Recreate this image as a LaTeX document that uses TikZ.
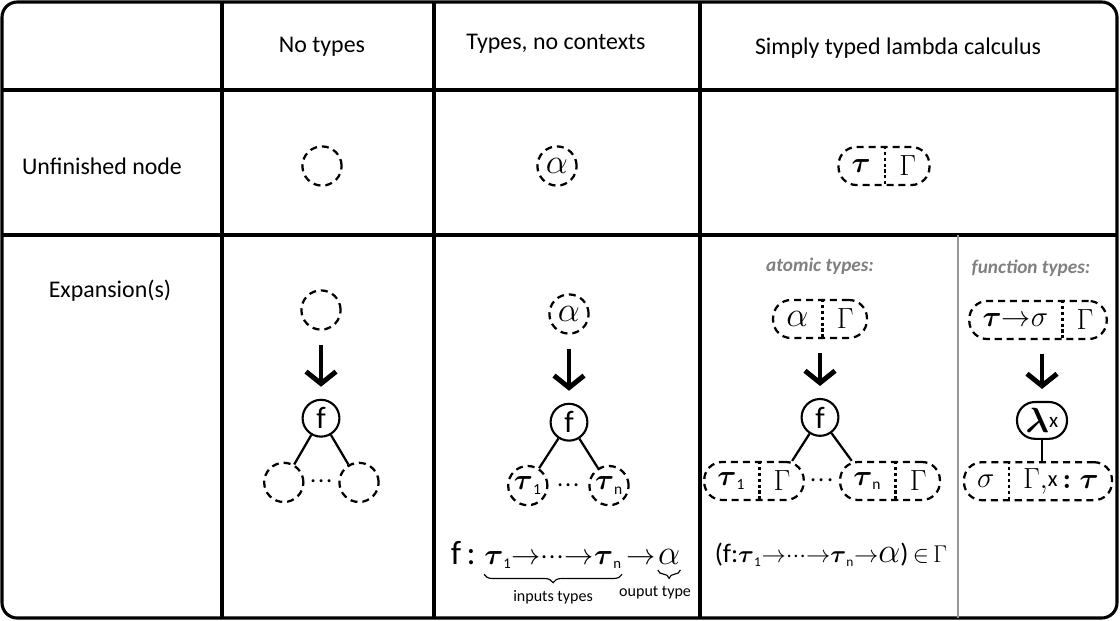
\documentclass[tikz,border=0pt]{standalone}
\usepackage{fontspec}
\setmainfont{Carlito}
\usepackage{amsmath,amsbsy}
\usepackage{tikz}
\usepackage{xcolor}
\usetikzlibrary{shapes,shapes.multipart,arrows,arrows.meta,positioning,calc,decorations.pathreplacing}
\definecolor{notegray}{RGB}{128,128,128}
\definecolor{rulegray}{RGB}{150,150,150}
\newcommand{\btau}{\boldsymbol{\tau}}
\newcommand{\tsub}[1]{\boldsymbol{\tau}_{\scriptscriptstyle\mathrm{#1}}}
\newcommand{\sdots}{{\cdotp\!\cdotp\!\cdotp}}
\newcommand{\aly}{{\fontsize{28}{28}\selectfont$\alpha$}}

\begin{document}
\begin{tikzpicture}[
 x=0.025cm, y=-0.025cm,
 hole/.style={circle, draw, dash pattern=on 5pt off 3.5pt, line width=1.6pt, minimum size=0.98cm, inner sep=0pt, font=\fontsize{22}{24}\selectfont},
 fun/.style={circle, draw, line width=1.5pt, minimum size=0.92cm, inner sep=0pt, font=\fontsize{22}{24}\selectfont},
 lam/.style={rectangle, draw, line width=1.5pt, rounded corners=0.45cm, minimum width=1.25cm, minimum height=0.92cm, inner sep=0pt, font=\fontsize{24}{26}\selectfont},
 ctx/.style={rectangle split, rectangle split horizontal, rectangle split parts=2, rectangle split draw splits=false, draw, rounded corners=0.45cm, dash pattern=on 5pt off 3.5pt, line width=1.6pt, minimum height=0.95cm, inner xsep=0.33cm, inner ysep=0pt, font=\fontsize{22}{24}\selectfont},
 divider/.style={dash pattern=on 2.2pt off 2pt, line width=1.6pt},
 arrow/.style={-{Straight Barb[length=0.3cm, width=0.75cm]}, line width=3.5pt, shorten <=0.35cm, shorten >=0.3cm},
 branch/.style={line width=1.6pt},
 head/.style={font=\fontsize{17}{20}\selectfont},
 kind/.style={font=\fontsize{13.7}{16}\selectfont\bfseries\itshape, text=notegray},
 note/.style={font=\fontsize{11.4}{13}\selectfont},
 brace/.style={decorate, decoration={brace, mirror, amplitude=6pt, raise=4pt}, line width=0.8pt},
 formula/.style={inner sep=0pt, font=\fontsize{21}{24}\selectfont}
]
\useasboundingbox (0,0) rectangle (1120,620);

% Grid
\draw[line width=2.2pt, rounded corners=0.38cm] (2,2) rectangle (1117,618);
\draw[line width=2.2pt] (222,2) -- (222,618) (434,2) -- (434,618) (700,2) -- (700,618);
\draw[line width=2.2pt] (2,90) -- (1117,90) (2,235) -- (1117,235);
\draw[line width=0.8pt, rulegray] (958,235) -- (958,618);

% Row 1: Headers
\node[head] (h1) at (322,47) {No types};
\node[head] (h2) at (556,44) {Types, no contexts};
\node[head] (h3) at (898,48) {Simply typed lambda calculus};

% Row 2: Unfinished node
\node[head] (r1) at (102,166) {Unfinished node};
\node[hole] (u1) at (322,166) {};
\node[hole, font=\fontsize{25}{25}\selectfont] (u2) at (557,166) {$\alpha$};
\node[ctx] (u3) at (884,166) {$\btau$\nodepart{two}$\Gamma$};
\draw[divider] (u3.one split north) -- (u3.one split south);

% Row 3: Expansion(s)
\node[head] (r2) at (110,291) {Expansion(s)};

% Column 1: no types
\node[hole] (e1top) at (321,310) {};
\node[fun, below=1.7cm of e1top] (e1f) {f};
\node[hole, below=0.6cm of e1f, xshift=-0.93cm] (e1a) {};
\node[hole, below=0.6cm of e1f, xshift=0.95cm] (e1b) {};
\node[formula] (e1dots) at ($(e1a)!0.5!(e1b)$) {$\sdots$};

\draw[arrow] (e1top) -- (e1f);
\draw[branch] (e1f) -- (e1a);
\draw[branch] (e1f) -- (e1b);

% Column 2: types, no contexts
\node[hole, font=\fontsize{28}{28}\selectfont] (e2top) at (569,314) {$\alpha$};
\node[fun, below=1.7cm of e2top] (e2f) {f};
\node[hole, below=0.58cm of e2f, xshift=-1.03cm] (e2a) {$\tsub{1}$};
\node[hole, below=0.58cm of e2f, xshift=1.0cm] (e2b) {$\tsub{n}$};
\node[formula] (e2dots) at ($(e2a)!0.5!(e2b)$) {$\sdots$};

\draw[arrow] (e2top) -- (e2f);
\draw[branch] (e2f) -- (e2a);
\draw[branch] (e2f) -- (e2b);

\node[formula, anchor=base west] (ins2) at (484,564) {$\tsub{1}{\to}\sdots{\to}\tsub{n}$};
\node[formula, anchor=base east, font=\fontsize{24}{26}\selectfont] (sig2) at ([xshift=-0.2cm]ins2.base west) {f\,:};
\node[formula, anchor=base west] (arr2) at ([xshift=0.1cm]ins2.base east) {${\to}$};
\node[formula, anchor=base west] (out2) at ([xshift=0.05cm]arr2.base east) {\aly};
\draw[brace] (ins2.south west) -- (ins2.south east)
 node[note, midway, below=0.42cm] (in2lbl) {inputs types};
\draw[brace] (out2.south west) -- (out2.south east)
 node[note, midway, below=0.42cm, xshift=-0.35cm] (out2lbl) {ouput type};

% Column 3: atomic types
\node[kind] (k3) at (820,266) {atomic types:};
\node[ctx] (e3top) at (820,319) {\aly\nodepart{two}$\Gamma$};
\draw[divider] (e3top.one split north) -- (e3top.one split south);
\node[fun, below=1.47cm of e3top] (e3f) {f};
\node[ctx, below=0.6cm of e3f, xshift=-1.65cm] (e3a) {$\tsub{1}$\nodepart{two}$\Gamma$};
\node[ctx, below=0.6cm of e3f, xshift=1.75cm] (e3b) {$\tsub{n}$\nodepart{two}$\Gamma$};
\draw[divider] (e3a.one split north) -- (e3a.one split south);
\draw[divider] (e3b.one split north) -- (e3b.one split south);
\node[formula] (e3dots) at ($(e3a)!0.5!(e3b)$) {$\sdots$};

\draw[arrow] (e3top) -- (e3f);
\draw[branch] (e3f) -- ($(e3a.north)!0.75!(e3a.north east)$);
\draw[branch] (e3f) -- ($(e3b.north)!0.75!(e3b.north west)$);

\node[formula, font=\fontsize{19}{22}\selectfont] (sig3) at (831,555) {(f:$\tsub{1}{\to}\sdots{\to}\tsub{n}{\to}${\fontsize{24}{24}\selectfont$\alpha$})\,${\in}\,\Gamma$};

% Column 4: function types
\node[kind] (k4) at (1031,268) {function types:};
\node[ctx] (e4top) at (1038,320) {$\btau{\to}\sigma$\nodepart{two}$\Gamma$};
\draw[divider] (e4top.one split north) -- (e4top.one split south);
\node[lam, below=1.52cm of e4top, xshift=0.1cm] (e4lam) {$\boldsymbol{\lambda}$\raisebox{0.3ex}{\fontsize{15}{15}\selectfont x}};
\node[ctx, below=0.53cm of e4lam, xshift=-0.1cm] (e4ch) {$\sigma$\nodepart{two}$\Gamma,$\raisebox{0.1ex}{\fontsize{16}{16}\selectfont x}$\,\boldsymbol{:}\btau$};
\draw[divider] (e4ch.one split north) -- (e4ch.one split south);

\draw[arrow] (e4top.south -| e4lam) -- (e4lam);
\draw[branch] (e4lam) -- (e4lam |- e4ch.north);

\end{tikzpicture}
\end{document}
